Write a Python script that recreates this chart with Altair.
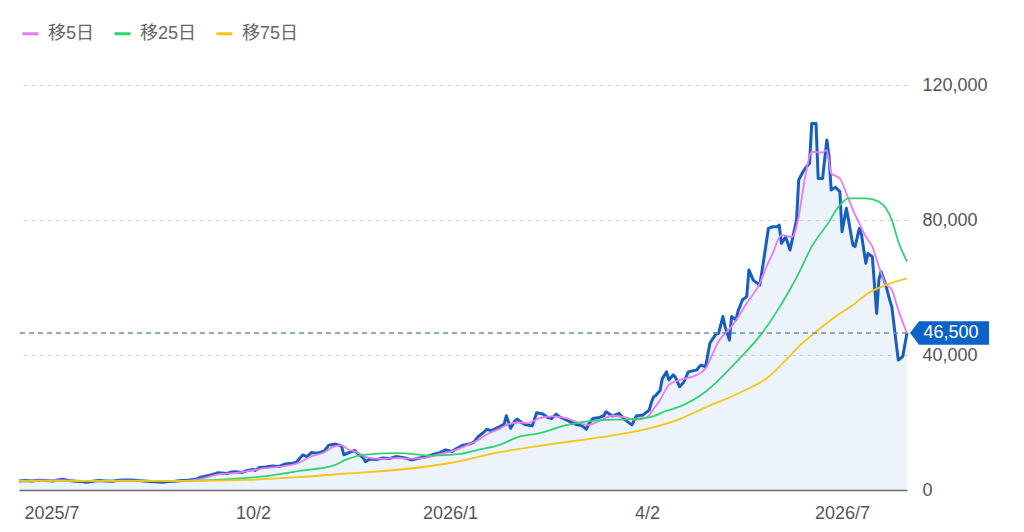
import altair as alt
import pandas as pd

FONT = "Liberation Sans, Arial, 'Noto Sans CJK JP', sans-serif"

# ---- price (daily close, yen) ----
price_dates = [
    "2025-06-16", "2025-06-19", "2025-06-22", "2025-06-25", "2025-06-28", "2025-07-02", "2025-07-04",
    "2025-07-06", "2025-07-09", "2025-07-12", "2025-07-15", "2025-07-17", "2025-07-20", "2025-07-23",
    "2025-07-26", "2025-07-29", "2025-08-01", "2025-08-04", "2025-08-07", "2025-08-10", "2025-08-14",
    "2025-08-16", "2025-08-20", "2025-08-21", "2025-08-24", "2025-08-27", "2025-08-30", "2025-09-02",
    "2025-09-06", "2025-09-08", "2025-09-12", "2025-09-15", "2025-09-16", "2025-09-20", "2025-09-22",
    "2025-09-24", "2025-09-27", "2025-09-29", "2025-10-02", "2025-10-03", "2025-10-05", "2025-10-08",
    "2025-10-11", "2025-10-14", "2025-10-17", "2025-10-20", "2025-10-22", "2025-10-25", "2025-10-27",
    "2025-10-29", "2025-11-01", "2025-11-04", "2025-11-06", "2025-11-09", "2025-11-11", "2025-11-12",
    "2025-11-13", "2025-11-15", "2025-11-18", "2025-11-20", "2025-11-22", "2025-11-23", "2025-11-25",
    "2025-11-28", "2025-12-01", "2025-12-04", "2025-12-07", "2025-12-10", "2025-12-12", "2025-12-14",
    "2025-12-18", "2025-12-21", "2025-12-24", "2025-12-27", "2025-12-30", "2026-01-02", "2026-01-04",
    "2026-01-07", "2026-01-10", "2026-01-12", "2026-01-14", "2026-01-16", "2026-01-18", "2026-01-20",
    "2026-01-24", "2026-01-26", "2026-01-27", "2026-01-29", "2026-01-31", "2026-02-01", "2026-02-03",
    "2026-02-05", "2026-02-08", "2026-02-10", "2026-02-13", "2026-02-15", "2026-02-17", "2026-02-19",
    "2026-02-21", "2026-02-24", "2026-02-26", "2026-02-28", "2026-03-03", "2026-03-05", "2026-03-06",
    "2026-03-08", "2026-03-11", "2026-03-13", "2026-03-14", "2026-03-17", "2026-03-20", "2026-03-23",
    "2026-03-26", "2026-03-28", "2026-03-31", "2026-04-01", "2026-04-03", "2026-04-04", "2026-04-05",
    "2026-04-06", "2026-04-08", "2026-04-09", "2026-04-11", "2026-04-12", "2026-04-14", "2026-04-15",
    "2026-04-17", "2026-04-19", "2026-04-21", "2026-04-25", "2026-04-26", "2026-04-27", "2026-04-29",
    "2026-05-01", "2026-05-02", "2026-05-04", "2026-05-05", "2026-05-07", "2026-05-08", "2026-05-10",
    "2026-05-11", "2026-05-13", "2026-05-14", "2026-05-16", "2026-05-18", "2026-05-19", "2026-05-21",
    "2026-05-24", "2026-05-25", "2026-05-27", "2026-05-28", "2026-05-30", "2026-06-01", "2026-06-02",
    "2026-06-03", "2026-06-05", "2026-06-07", "2026-06-08", "2026-06-10", "2026-06-11", "2026-06-13",
    "2026-06-14", "2026-06-16", "2026-06-17", "2026-06-19", "2026-06-20", "2026-06-22", "2026-06-24",
    "2026-06-25", "2026-06-26", "2026-06-28", "2026-06-30", "2026-07-01", "2026-07-03", "2026-07-04",
    "2026-07-06", "2026-07-07", "2026-07-09", "2026-07-10", "2026-07-12", "2026-07-13", "2026-07-15",
    "2026-07-17", "2026-07-18", "2026-07-19", "2026-07-21", "2026-07-23", "2026-07-24", "2026-07-26",
    "2026-07-27", "2026-07-29", "2026-07-31",
]
price_values = [
    2700, 2800, 2700, 2900, 2800, 2700, 3000,
    3200, 2800, 2600, 2500, 2300, 2600, 2800,
    2700, 2600, 2900, 3000, 3000, 2800, 2600,
    2500, 2400, 2300, 2500, 2600, 2800, 2900,
    3300, 3800, 4400, 4900, 5100, 4900, 5300,
    5400, 5200, 5700, 6100, 5800, 6700, 6800,
    7100, 7000, 7700, 7900, 8200, 10400, 9900,
    11100, 10900, 11600, 13300, 13600, 13300, 12800,
    10400, 11000, 11700, 10500, 9500, 8400, 9200,
    9000, 9500, 9300, 9900, 9600, 9400, 8900,
    9500, 9900, 10500, 11000, 11900, 11400, 12300,
    13300, 13600, 14200, 15800, 16800, 18000, 17600,
    18800, 19500, 22000, 18300, 20500, 21000, 20000,
    19300, 19000, 22900, 22500, 21500, 21200, 22500,
    21500, 20700, 20000, 19500, 19000, 18000, 19500,
    21200, 21500, 22000, 23200, 21900, 22700, 20700,
    19300, 21900, 22200, 22700, 23700, 26000, 27600,
    28000, 29500, 33000, 35000, 32600, 34100, 33500,
    30600, 32000, 35000, 35600, 36500, 37000, 36500,
    43500, 44500, 46400, 46400, 51400, 48400, 44400,
    51400, 50400, 53000, 56300, 57300, 65200, 62200,
    60700, 64700, 73100, 77500, 78000, 78000, 78500,
    73100, 75000, 71100, 74100, 80000, 91900, 94300,
    95300, 96800, 108600, 108600, 92300, 92300, 103700,
    98800, 88900, 89700, 88400, 76500, 83500, 80000,
    72600, 72100, 77500, 75600, 67200, 70100, 69100,
    52300, 62200, 64700, 61200, 56300, 54300, 43500,
    38500, 39500, 46500,
]

# ---- moving averages ----
series_names = ["移5日", "移25日", "移75日"]
series_colors = ["#e879f9", "#2fd372", "#f6c518"]

ma5_dates = [
    "2025-06-16", "2025-07-04", "2025-07-23", "2025-08-10", "2025-08-29", "2025-09-07", "2025-09-16",
    "2025-09-26", "2025-10-05", "2025-10-14", "2025-10-23", "2025-10-29", "2025-11-04", "2025-11-08",
    "2025-11-12", "2025-11-15", "2025-11-19", "2025-11-23", "2025-11-29", "2025-12-08", "2025-12-14",
    "2025-12-21", "2025-12-27", "2026-01-02", "2026-01-08", "2026-01-14", "2026-01-19", "2026-01-24",
    "2026-01-28", "2026-02-02", "2026-02-06", "2026-02-11", "2026-02-17", "2026-02-24", "2026-03-02",
    "2026-03-06", "2026-03-11", "2026-03-17", "2026-03-23", "2026-03-28", "2026-04-02", "2026-04-05",
    "2026-04-08", "2026-04-12", "2026-04-17", "2026-04-23", "2026-04-29", "2026-05-02", "2026-05-05",
    "2026-05-11", "2026-05-18", "2026-05-24", "2026-05-27", "2026-05-30", "2026-06-03", "2026-06-08",
    "2026-06-11", "2026-06-14", "2026-06-17", "2026-06-22", "2026-06-24", "2026-06-26", "2026-06-30",
    "2026-07-03", "2026-07-06", "2026-07-09", "2026-07-12", "2026-07-15", "2026-07-18", "2026-07-21",
    "2026-07-24", "2026-07-27", "2026-07-31",
]
ma5_values = [
    2700, 2900, 2700, 2800, 2600, 3200, 4600,
    5200, 6200, 6900, 8000, 10000, 11200, 12800,
    13200, 12000, 11200, 9800, 9200, 9500, 9300,
    9600, 10600, 11500, 13000, 14800, 16800, 18200,
    19500, 20000, 19800, 21200, 21800, 21200, 19800,
    19300, 20500, 22000, 21500, 20800, 21600, 24000,
    26700, 31100, 32600, 33600, 36000, 40000, 44000,
    48400, 55300, 61200, 66000, 70100, 75500, 75000,
    81000, 92800, 100200, 100000, 100700, 93800, 92300,
    87900, 83000, 79000, 75000, 72100, 66200, 61200,
    59300, 53300, 46400,
]

ma25_dates = [
    "2025-06-16", "2025-07-23", "2025-09-02", "2025-09-21", "2025-10-08", "2025-10-23", "2025-11-08",
    "2025-11-14", "2025-11-23", "2025-12-08", "2025-12-24", "2026-01-05", "2026-01-14", "2026-01-24",
    "2026-02-02", "2026-02-11", "2026-02-24", "2026-03-11", "2026-03-26", "2026-04-03", "2026-04-11",
    "2026-04-17", "2026-04-29", "2026-05-14", "2026-05-25", "2026-06-01", "2026-06-07", "2026-06-11",
    "2026-06-17", "2026-06-24", "2026-06-30", "2026-07-04", "2026-07-12", "2026-07-18", "2026-07-24",
    "2026-07-27", "2026-07-31",
]
ma25_values = [
    2700, 2700, 2700, 3200, 4100, 5600, 7200,
    9000, 10500, 10900, 10200, 10600, 11900, 13400,
    15800, 16800, 19300, 20700, 21000, 21500, 23500,
    24700, 29100, 38500, 46400, 53000, 59500, 64200,
    72100, 78500, 84400, 86400, 86400, 85400, 80000,
    73600, 67700,
]

ma75_dates = [
    "2025-06-16", "2025-09-02", "2025-09-30", "2025-10-23", "2025-11-15", "2025-12-08", "2026-01-01",
    "2026-01-24", "2026-02-16", "2026-03-11", "2026-03-29", "2026-04-17", "2026-04-29", "2026-05-14",
    "2026-05-28", "2026-06-04", "2026-06-11", "2026-06-20", "2026-06-28", "2026-07-06", "2026-07-13",
    "2026-07-21", "2026-07-31",
]
ma75_values = [
    2700, 2700, 3000, 3800, 4900, 6000, 8000,
    11200, 13500, 15600, 17500, 21000, 24500, 28600,
    33500, 37800, 42500, 47400, 51400, 54800, 58300,
    60700, 62700,
]

# ---- axes ----
tick_dates = ["2025-07-01", "2025-10-02", "2026-01-01", "2026-04-02", "2026-07-01"]
tick_labels = ["2025/7", "10/2", "2026/1", "4/2", "2026/7"]
y_ticks = [0, 40000, 80000, 120000]
last_price = price_values[-1]


def dt(s):
    y, m, d = map(int, s.split("-"))
    return alt.DateTime(year=y, month=m, date=d, utc=True)


price_df = pd.DataFrame({"date": price_dates, "value": price_values})
ma_df = pd.concat(
    [
        pd.DataFrame({"date": ds, "value": vs, "series": name})
        for ds, vs, name in zip(
            [ma5_dates, ma25_dates, ma75_dates],
            [ma5_values, ma25_values, ma75_values],
            series_names,
        )
    ],
    ignore_index=True,
)
last_df = pd.DataFrame({"value": [last_price], "label": [f"{last_price:,}"]})

label_expr = " : ".join(
    f"utcFormat(datum.value, '%Y-%m-%d') == '{d}' ? '{l}'" for d, l in zip(tick_dates, tick_labels)
) + " : ''"

x_enc = alt.X(
    "date:T",
    title=None,
    scale=alt.Scale(type="utc", domain=[dt(price_dates[0]), dt(price_dates[-1])], nice=False),
    axis=alt.Axis(
        values=[dt(d) for d in tick_dates],
        labelExpr=label_expr,
        grid=False,
        ticks=False,
        domain=True,
        domainColor="#6e6e6e",
        domainWidth=1.5,
        labelFont=FONT,
        labelFontSize=18,
        labelColor="#555555",
        labelPadding=14,
        labelFlush=False,
        labelOverlap=False,
    ),
)
y_scale = alt.Scale(domain=[0, 120000], nice=False)
y_enc = alt.Y(
    "value:Q",
    title=None,
    scale=y_scale,
    axis=alt.Axis(
        orient="right",
        values=y_ticks,
        format=",d",
        grid=True,
        gridDash=[4, 4],
        gridColor="#d4d4d4",
        gridWidth=1,
        ticks=False,
        domain=False,
        labelFont=FONT,
        labelFontSize=18,
        labelColor="#555555",
        labelPadding=15,
    ),
)

area = alt.Chart(price_df).mark_area(color="#1565c0", opacity=0.08).encode(x=x_enc, y=y_enc)

price_line = alt.Chart(price_df).mark_line(
    color="#175fbf", strokeWidth=3, strokeJoin="round"
).encode(x=x_enc, y=y_enc)

ma_lines = alt.Chart(ma_df).mark_line(strokeWidth=1.8, interpolate="monotone").encode(
    x=x_enc,
    y=y_enc,
    color=alt.Color(
        "series:N",
        scale=alt.Scale(domain=series_names, range=series_colors),
        sort=series_names,
        legend=alt.Legend(
            title=None,
            orient="none",
            legendX=2,
            legendY=-61,
            direction="horizontal",
            symbolType="stroke",
            symbolSize=256,
            symbolStrokeWidth=3,
            labelFont=FONT,
            labelFontSize=18,
            labelColor="#666666",
            labelOffset=8,
            columnPadding=13,
            padding=0,
        ),
    ),
    detail="series:N",
)

last_rule = alt.Chart(last_df).mark_rule(
    color="#6f8db0", strokeDash=[5, 4], strokeWidth=1.5
).encode(y=alt.Y("value:Q", scale=y_scale))

callout_path = "M-1,0L-0.772,-0.2975L1,-0.2975L1,0.2975L-0.772,0.2975Z"
callout = alt.Chart(last_df).mark_point(
    shape=callout_path, filled=True, color="#0b62c8", opacity=1, size=6241, strokeWidth=0
).encode(x=alt.value(930.5), y=alt.Y("value:Q", scale=y_scale))

callout_text = alt.Chart(last_df).mark_text(
    font=FONT, fontSize=18, color="white", align="center", baseline="middle"
).encode(x=alt.value(932), y=alt.Y("value:Q", scale=y_scale), text="label:N")

chart = (
    alt.layer(area, price_line, ma_lines, last_rule, callout, callout_text)
    .properties(
        width=888,
        height=405,
        background="white",
        padding={"left": 7, "top": 16, "right": 5, "bottom": 5},
    )
    .configure_view(strokeWidth=0, stroke="transparent")
)

chart.save("out.html", embed_options={"renderer": "svg", "actions": False})
